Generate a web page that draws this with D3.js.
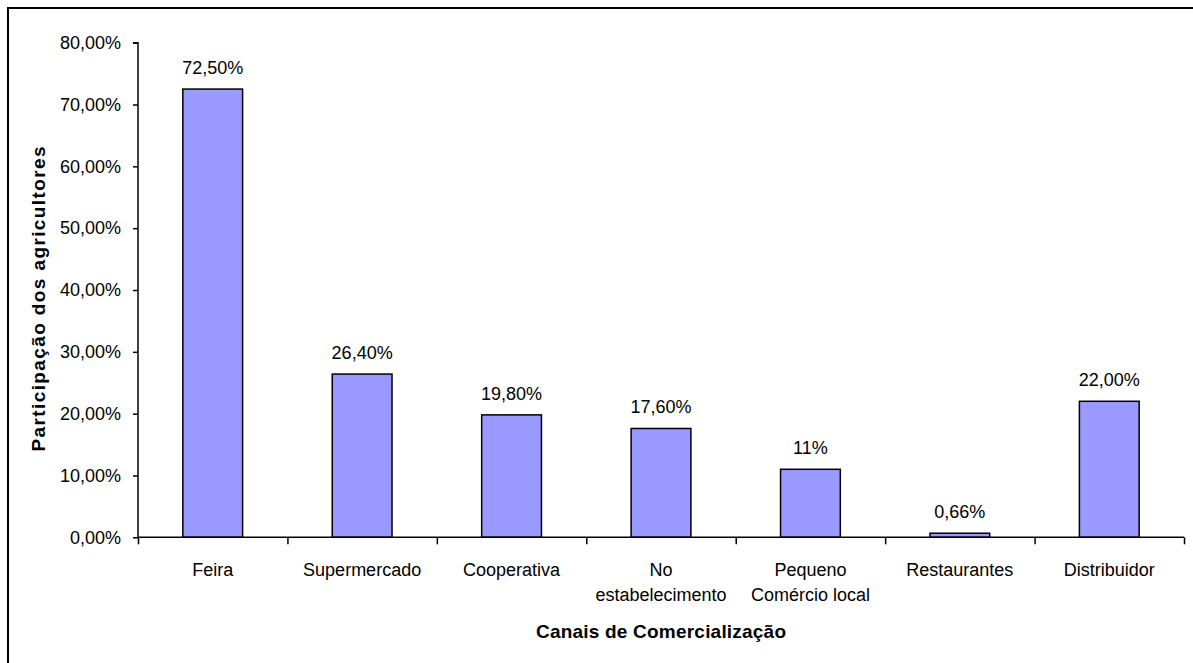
<!DOCTYPE html>
<html><head><meta charset="utf-8">
<script src="https://cdn.jsdelivr.net/npm/d3@7"></script>
<style>body{margin:0;background:#fff}svg{display:block}text{font-family:"Liberation Sans",Arial,sans-serif}</style>
</head><body>
<svg id="c" width="1193" height="663"></svg>
<script>
const categories = [["Feira"],["Supermercado"],["Cooperativa"],["No","estabelecimento"],["Pequeno","Comércio local"],["Restaurantes"],["Distribuidor"]];
const values = [72.5, 26.4, 19.8, 17.6, 11, 0.66, 22];
const valueLabels = ["72,50%","26,40%","19,80%","17,60%","11%","0,66%","22,00%"];
const yTicks = [0,10,20,30,40,50,60,70,80];
const yTickLabels = ["0,00%","10,00%","20,00%","30,00%","40,00%","50,00%","60,00%","70,00%","80,00%"];
const xTitle = "Canais de Comercialização";
const yTitle = "Participação dos agricultores";

(function(){
const svg = d3.select("#c");
svg.append("rect").attr("x",8).attr("y",8).attr("width",1210).attr("height",700)
  .attr("fill","#fff").attr("stroke","#000").attr("stroke-width",2);

const pl = 138, pr = 1184, pt = 42.7, pb = 537.3;
const FS = 18;
const x = d3.scaleBand().domain(d3.range(categories.length)).range([pl,pr]).paddingInner(0).paddingOuter(0);
const y = d3.scaleLinear().domain([0,80]).range([pb,pt]);
const bw = x.bandwidth()/2.5;

const g = svg.append("g");
g.selectAll("rect.bar").data(values).join("rect").attr("class","bar")
  .attr("x",(d,i)=>x(i)+x.bandwidth()/2-bw/2).attr("width",bw)
  .attr("y",d=>y(d)).attr("height",d=>y(0)-y(d))
  .attr("fill","#9999ff").attr("stroke","#000").attr("stroke-width",1.5);
g.selectAll("text.val").data(values).join("text").attr("class","val")
  .attr("x",(d,i)=>x(i)+x.bandwidth()/2).attr("y",d=>y(d)-15)
  .attr("text-anchor","middle").attr("font-size",FS).attr("fill","#000")
  .text((d,i)=>valueLabels[i]);

const ya = d3.axisLeft(y).tickValues(yTicks).tickFormat((d,i)=>yTickLabels[i]).tickSize(5).tickPadding(12);
const yg = svg.append("g").attr("transform",`translate(${pl},0)`).call(ya);
yg.select(".domain").attr("stroke","#000").attr("stroke-width",1.5).attr("d",`M-5,${pt}H0V${pb}`);
yg.selectAll(".tick line").attr("stroke","#000").attr("stroke-width",1.5);
yg.selectAll(".tick text").attr("font-size",FS).attr("fill","#000").attr("font-family","Liberation Sans, Arial, sans-serif");

const xb = d3.scaleLinear().domain([0,categories.length]).range([pl,pr]);
const xa = d3.axisBottom(xb).tickValues(d3.range(categories.length+1)).tickFormat("").tickSize(7);
const xg = svg.append("g").attr("transform",`translate(0,${pb})`).call(xa);
xg.select(".domain").attr("stroke","#000").attr("stroke-width",1.5).attr("d",`M${pl},0H${pr}`);
xg.selectAll(".tick line").attr("stroke","#000").attr("stroke-width",1.5);

categories.forEach((lines,i)=>{
  const t = svg.append("text").attr("text-anchor","middle").attr("font-size",FS).attr("fill","#000")
    .attr("x",x(i)+x.bandwidth()/2).attr("y",576);
  lines.forEach((l,j)=>t.append("tspan").attr("x",x(i)+x.bandwidth()/2).attr("dy",j===0?0:25).text(l));
});

svg.append("text").attr("x",(pl+pr)/2).attr("y",638).attr("text-anchor","middle")
  .attr("font-size",19).attr("font-weight","bold").attr("fill","#000")
  .attr("textLength",250).attr("lengthAdjust","spacing").text(xTitle);
svg.append("text").attr("transform",`translate(45,299) rotate(-90)`).attr("text-anchor","middle")
  .attr("font-size",19).attr("font-weight","bold").attr("fill","#000")
  .attr("textLength",305).attr("lengthAdjust","spacing").text(yTitle);
})();
</script>
</body></html>
